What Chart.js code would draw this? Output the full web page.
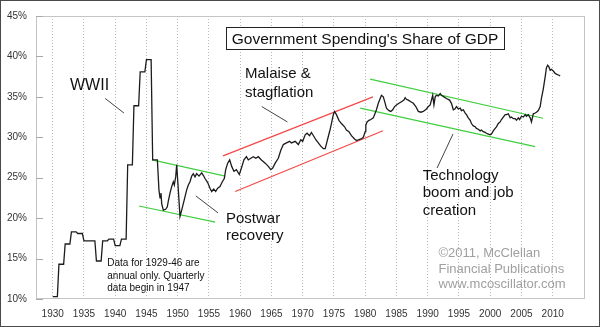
<!DOCTYPE html>
<html>
<head>
<meta charset="utf-8">
<script src="https://cdn.jsdelivr.net/npm/chart.js@4.4.1/dist/chart.umd.min.js"></script>
<style>
  body { margin: 0; background: #fff; }
  canvas { display: block; }
</style>
</head>
<body>
<canvas id="gdpChart" width="600" height="327"></canvas>
<script>
/* ============================================================
   DATA
   ============================================================ */
const xTicks = [1930, 1935, 1940, 1945, 1950, 1955, 1960, 1965, 1970, 1975,
                1980, 1985, 1990, 1995, 2000, 2005, 2010];
const yTicks = [10, 15, 20, 25, 30, 35, 40, 45];

// annual figures, each held flat across its four quarters
const annualFirstYear = 1930;
const annualShare = [10.3, 14.3, 16.8, 18.3, 18.1, 17.2, 17.2, 14.7, 17.2,
                     17.4, 16.6, 17.4, 26.6, 33.9, 38.1, 39.6, 27.2];

// quarterly readings [year, % of GDP]
const quarterlyShare = [
  [1947.0, 23.5], [1947.17, 22.5], [1947.33, 23.1], [1947.44, 21.8], [1947.7, 21.0],
  [1948.08, 21.1], [1948.34, 21.4], [1948.5, 22.1], [1948.77, 23.1], [1949.04, 23.9],
  [1949.3, 24.5], [1949.46, 24.1], [1949.68, 25.1], [1949.84, 26.6], [1950.1, 23.5],
  [1950.37, 20.2], [1950.64, 21.0], [1951.06, 22.3], [1951.44, 23.5], [1951.7, 24.1],
  [1951.97, 24.5], [1952.24, 25.2], [1952.5, 25.5], [1952.77, 25.1], [1953.04, 25.5],
  [1953.41, 25.2], [1953.84, 25.6], [1954.1, 25.3], [1954.37, 24.9], [1954.8, 24.4],
  [1955.17, 23.7], [1955.44, 23.3], [1955.76, 23.6], [1956.08, 23.3], [1956.4, 23.7],
  [1956.77, 23.9], [1957.14, 24.5], [1957.46, 24.9], [1957.68, 26.0], [1958.0, 26.8],
  [1958.32, 27.2], [1958.64, 26.4], [1959.0, 25.8], [1959.4, 26.0], [1959.86, 25.4],
  [1960.2, 26.2], [1960.6, 27.2], [1961.0, 27.6], [1961.3, 27.2], [1961.7, 27.4],
  [1962.1, 27.6], [1962.5, 27.4], [1962.9, 27.6], [1963.4, 27.2], [1964.0, 26.8],
  [1964.5, 26.4], [1964.9, 26.0], [1965.2, 26.2], [1965.6, 26.8], [1966.1, 27.4],
  [1966.5, 28.4], [1966.9, 29.1], [1967.4, 29.3], [1967.9, 29.5], [1968.2, 29.3],
  [1968.8, 29.5], [1969.3, 29.1], [1969.7, 29.7], [1970.0, 29.5], [1970.4, 30.3],
  [1970.7, 30.5], [1971.1, 30.2], [1971.4, 30.6], [1971.8, 30.1], [1972.1, 29.7],
  [1972.5, 29.3], [1972.9, 28.9], [1973.3, 28.6], [1973.6, 28.6], [1973.84, 29.3],
  [1974.1, 30.1], [1974.37, 30.9], [1974.6, 31.7], [1974.9, 32.8], [1975.1, 33.2],
  [1975.4, 32.8], [1975.8, 32.1], [1976.2, 31.7], [1976.7, 31.3], [1977.0, 30.9],
  [1977.4, 30.7], [1977.8, 30.2], [1978.3, 29.8], [1978.6, 29.6], [1979.0, 29.7],
  [1979.35, 29.8], [1979.7, 30.0], [1980.0, 30.7], [1980.1, 31.5], [1980.3, 31.9],
  [1980.6, 32.1], [1980.9, 32.2], [1981.3, 32.4], [1981.6, 33.0], [1981.8, 33.4],
  [1982.1, 34.2], [1982.4, 34.8], [1982.6, 35.2], [1982.9, 35.0], [1983.2, 34.2],
  [1983.4, 33.6], [1983.8, 33.3], [1984.1, 33.2], [1984.4, 33.4], [1984.7, 33.8],
  [1985.0, 34.0], [1985.4, 34.2], [1985.8, 34.4], [1986.2, 34.6], [1986.4, 34.9],
  [1986.6, 34.7], [1986.9, 34.6], [1987.3, 34.4], [1987.7, 34.2], [1988.1, 33.8],
  [1988.5, 33.2], [1988.9, 33.1], [1989.3, 33.2], [1989.8, 33.5], [1990.1, 33.8],
  [1990.4, 34.0], [1990.6, 34.6], [1990.8, 35.2], [1991.0, 34.0], [1991.2, 35.0],
  [1991.4, 35.2], [1991.7, 35.1], [1992.0, 35.4], [1992.2, 35.2], [1992.6, 35.0],
  [1993.0, 34.8], [1993.5, 34.6], [1993.8, 34.2], [1994.1, 33.4], [1994.35, 33.5],
  [1994.6, 33.8], [1994.9, 33.5], [1995.2, 33.6], [1995.4, 33.3], [1995.7, 33.4],
  [1996.0, 33.0], [1996.2, 32.8], [1996.5, 32.4], [1996.8, 32.1], [1997.0, 31.7],
  [1997.3, 31.4], [1997.6, 31.3], [1997.8, 31.1], [1998.1, 31.0], [1998.4, 30.8],
  [1998.6, 30.9], [1998.9, 30.7], [1999.2, 30.6], [1999.4, 30.5], [1999.7, 30.4],
  [2000.0, 30.3], [2000.2, 30.4], [2000.5, 30.8], [2000.8, 31.1], [2001.0, 31.3],
  [2001.3, 31.7], [2001.6, 31.9], [2001.8, 32.2], [2002.1, 32.5], [2002.4, 32.8],
  [2002.6, 32.8], [2002.9, 32.9], [2003.2, 32.4], [2003.4, 32.5], [2003.7, 32.3],
  [2004.0, 32.3], [2004.2, 32.1], [2004.5, 32.4], [2004.7, 32.2], [2005.0, 32.6],
  [2005.3, 32.5], [2005.6, 32.8], [2005.8, 32.6], [2006.1, 32.8], [2006.4, 32.4],
  [2006.6, 31.9], [2006.9, 32.9], [2007.2, 33.0], [2007.4, 33.1], [2007.7, 33.3],
  [2008.0, 33.8], [2008.2, 34.8], [2008.5, 36.0], [2008.8, 37.5], [2009.0, 38.6],
  [2009.2, 38.9], [2009.4, 38.7], [2009.6, 38.3], [2009.8, 38.4], [2010.1, 38.2],
  [2010.4, 37.9], [2010.6, 37.8], [2010.9, 37.7], [2011.2, 37.6]
];

// trend channels and pointer lines, [year, %] end points
const postwarTop    = [[1945.9, 27.2], [1957.6, 25.2]];
const postwarBottom = [[1943.8, 21.5], [1956.0, 19.5]];
const malaiseTop    = [[1957.25, 27.7], [1981.25, 35.0]];
const malaiseBottom = [[1959.2, 23.3], [1982.85, 30.8]];
const techTop       = [[1980.8, 37.2], [2008.45, 32.35]];
const techBottom    = [[1979.2, 33.6], [2007.2, 28.85]];
const pointerWWII    = [[1938.4, 34.8], [1941.4, 33.0]];
const pointerMalaise = [[1963.45, 33.8], [1967.55, 31.9]];
const pointerPostwar = [[1952.9, 22.75], [1956.45, 20.65]];
const pointerTech    = [[1994.05, 30.4], [1991.5, 26.2]];

/* ============================================================
   SERIES
   ============================================================ */
const FONT = "Arial, 'Liberation Sans', Helvetica, sans-serif";
const GREEN = "#3fcf3f";
const RED = "#f44848";
const POINTER = "#444";

let seriesPoints = [];
annualShare.forEach((v, i) => {
    for (let q = 0; q < 4; q++) {
        seriesPoints.push({ x: annualFirstYear + i + q / 4, y: v });
    }
});
quarterlyShare.forEach(p => seriesPoints.push({ x: p[0], y: p[1] }));

function lineSet(points, color, width) {
    return {
        data: points.map(p => ({ x: p[0], y: p[1] })),
        borderColor: color,
        borderWidth: width,
        pointRadius: 0,
        tension: 0,
        fill: false
    };
}

/* ============================================================
   PLUGINS (background, frame, notes)
   ============================================================ */
const frame = {
    id: "frame",
    beforeDraw(chart) {
        const ctx = chart.ctx;
        ctx.save();
        ctx.fillStyle = "#fff";
        ctx.fillRect(0, 0, chart.width, chart.height);
        ctx.restore();
    },
    beforeDatasetsDraw(chart) {
        const ctx = chart.ctx;
        const a = chart.chartArea;
        const yScale = chart.scales.y;
        ctx.save();
        ctx.strokeStyle = "#c4c4c4";
        ctx.lineWidth = 1;
        ctx.strokeRect(Math.round(a.left) + 0.5, Math.round(a.top) + 0.5,
            Math.round(a.right - a.left) - 1, Math.round(a.bottom - a.top) - 1);

        // short inward tick marks on the left edge
        ctx.strokeStyle = "#a8a8a8";
        yTicks.forEach(v => {
            const y = Math.round(yScale.getPixelForValue(v)) + 0.5;
            ctx.beginPath();
            ctx.moveTo(a.left, y);
            ctx.lineTo(a.left + 7, y);
            ctx.stroke();
        });
        ctx.restore();
    },
    afterDraw(chart) {
        const ctx = chart.ctx;
        ctx.save();
        ctx.strokeStyle = "#4a4a4a";
        ctx.lineWidth = 1;
        ctx.strokeRect(0.5, 0.5, chart.width - 1, chart.height - 1);
        ctx.restore();
    }
};

const notes = {
    id: "notes",
    afterDatasetsDraw(chart) {
        const ctx = chart.ctx;
        ctx.save();

        // title box
        ctx.fillStyle = "#fff";
        ctx.fillRect(226.5, 27.5, 278, 22);
        ctx.strokeStyle = "#222";
        ctx.lineWidth = 1;
        ctx.strokeRect(226.5, 27.5, 278, 22);
        ctx.fillStyle = "#111";
        ctx.textAlign = "center";
        ctx.textBaseline = "alphabetic";
        ctx.font = "15.5px " + FONT;
        ctx.fillText("Government Spending's Share of GDP", 365, 43.5);

        ctx.textAlign = "left";
        ctx.font = "16px " + FONT;
        ctx.fillText("WWII", 70, 89.5);

        ctx.font = "15px " + FONT;
        ctx.fillText("Malaise &", 245, 78.3);
        ctx.fillText("stagflation", 245, 96.5);

        ctx.fillText("Postwar", 226, 222.5);
        ctx.fillText("recovery", 226, 240);

        ctx.fillText("Technology", 422.7, 179.5);
        ctx.fillText("boom and job", 422.7, 197);
        ctx.fillText("creation", 422.7, 214.5);

        ctx.font = "10px " + FONT;
        ctx.fillText("Data for 1929-46 are", 107.3, 266);
        ctx.fillText("annual only. Quarterly", 107.3, 278.5);
        ctx.fillText("data begin in 1947", 107.3, 291);

        ctx.fillStyle = "#a0a0a0";
        ctx.font = "13px " + FONT;
        ctx.fillText("\u00A92011, McClellan", 438.5, 257);
        ctx.fillText("Financial Publications", 438.5, 272.7);
        ctx.fillText("www.mcoscillator.com", 438.5, 288.3);

        ctx.restore();
    }
};

/* ============================================================
   CHART
   ============================================================ */
new Chart(document.getElementById("gdpChart"), {
    type: "line",
    data: {
        datasets: [
            { data: seriesPoints, borderColor: "#1c1c1c", borderWidth: 1.3,
              pointRadius: 0, tension: 0, fill: false },
            lineSet(postwarTop, GREEN, 1.2),
            lineSet(postwarBottom, GREEN, 1.2),
            lineSet(malaiseTop, RED, 1.2),
            lineSet(malaiseBottom, RED, 1.2),
            lineSet(techTop, GREEN, 1.2),
            lineSet(techBottom, GREEN, 1.2),
            lineSet(pointerWWII, POINTER, 1),
            lineSet(pointerMalaise, POINTER, 1),
            lineSet(pointerPostwar, POINTER, 1),
            lineSet(pointerTech, POINTER, 1)
        ]
    },
    options: {
        responsive: false,
        animation: false,
        devicePixelRatio: 1,
        layout: { padding: { top: 16, right: 15, left: 0, bottom: 0 } },
        plugins: {
            legend: { display: false },
            tooltip: { enabled: false }
        },
        scales: {
            x: {
                type: "linear",
                min: 1927.33,
                max: 2015.17,
                afterBuildTicks: scale => { scale.ticks = xTicks.map(v => ({ value: v })); },
                afterFit: scale => { scale.height = 28; },
                grid: { color: "#b8b8b8", lineWidth: 1, drawTicks: false },
                border: { display: false, dash: [1, 2] },
                ticks: {
                    autoSkip: false,
                    maxRotation: 0,
                    padding: 9,
                    color: "#333",
                    font: { family: FONT, size: 10 },
                    callback: v => String(v)
                }
            },
            y: {
                min: 10,
                max: 45,
                afterFit: scale => { scale.width = 36; },
                grid: { display: false, drawTicks: false },
                border: { display: false },
                ticks: {
                    stepSize: 5,
                    padding: 9,
                    color: "#333",
                    font: { family: FONT, size: 10 },
                    callback: v => v + "%"
                }
            }
        }
    },
    plugins: [frame, notes]
});
</script>
</body>
</html>
